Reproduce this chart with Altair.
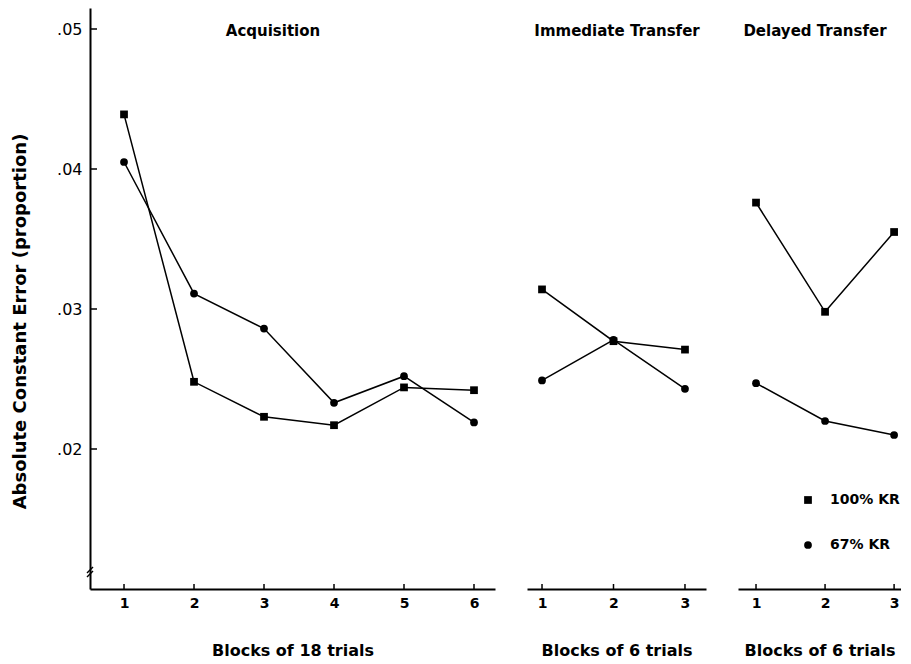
import altair as alt
import pandas as pd

groups = ["100% KR", "67% KR"]
acq_blocks = [1, 2, 3, 4, 5, 6]
acq_100 = [0.0439, 0.0248, 0.0223, 0.0217, 0.0244, 0.0242]
acq_67 = [0.0405, 0.0311, 0.0286, 0.0233, 0.0252, 0.0219]
tr_blocks = [1, 2, 3]
imm_100 = [0.0314, 0.0277, 0.0271]
imm_67 = [0.0249, 0.0278, 0.0243]
del_100 = [0.0376, 0.0298, 0.0355]
del_67 = [0.0247, 0.0220, 0.0210]
y_ticks = [0.02, 0.03, 0.04, 0.05]
panel_titles = ["Acquisition", "Immediate Transfer", "Delayed Transfer"]
x_titles = ["Blocks of 18 trials", "Blocks of 6 trials", "Blocks of 6 trials"]

FONT = "DejaVu Sans"
H = 581
Y_DOMAIN = [0.01, 0.0515]


def make_df(blocks, v100, v67):
    rows = []
    for b, v in zip(blocks, v100):
        rows.append({"block": b, "value": v, "group": groups[0]})
    for b, v in zip(blocks, v67):
        rows.append({"block": b, "value": v, "group": groups[1]})
    return pd.DataFrame(rows)


LEG = alt.Legend(
    title=None, orient="none", legendX=711, legendY=485, direction="vertical",
    labelFont=FONT, labelFontSize=14, labelFontWeight="bold", labelColor="black",
    symbolSize=60, symbolFillColor="black", symbolStrokeColor="black", symbolType="square",
    rowPadding=31, labelOffset=15, padding=0,
)


def panel(df, blocks, xdomain, width, title, title_x, xtitle, first=False):
    xscale = alt.Scale(domain=xdomain, nice=False, zero=False)
    yscale = alt.Scale(domain=Y_DOMAIN, nice=False, zero=False)
    x = alt.X(
        "block:Q",
        scale=xscale,
        axis=alt.Axis(
            values=blocks, format="d", title=xtitle, ticks=False, grid=False,
            labelPadding=7, titlePadding=32, domainColor="black", domainWidth=2,
            labelFont=FONT, labelFontSize=14, labelFontWeight="bold", labelColor="black",
            titleFont=FONT, titleFontSize=16, titleFontWeight="bold", titleColor="black",
        ),
    )
    if first:
        y = alt.Y(
            "value:Q",
            scale=yscale,
            axis=alt.Axis(
                values=y_ticks, labelExpr="substring(format(datum.value, '.2f'), 1)",
                title="Absolute Constant Error (proportion)", ticks=False, grid=False,
                labelPadding=8, titleX=-70, titleY=313, titleAngle=-90,
                titleAlign="center", titleBaseline="middle",
                domainColor="black", domainWidth=2,
                labelFont=FONT, labelFontSize=16, labelColor="black",
                titleFont=FONT, titleFontSize=18, titleFontWeight="bold", titleColor="black",
            ),
        )
    else:
        y = alt.Y("value:Q", scale=yscale, axis=None)

    base = alt.Chart(df)
    lines = base.mark_line(color="black", strokeWidth=1.5).encode(x=x, y=y, detail="group:N")
    points = base.mark_point(filled=True, opacity=1, color="black", size=60).encode(
        x=x,
        y=y,
        shape=alt.Shape("group:N", scale=alt.Scale(domain=groups, range=["square", "circle"]), legend=LEG),
    )
    tick_df = pd.DataFrame({"block": blocks})
    xticks = alt.Chart(tick_df).mark_rule(color="black", strokeWidth=1.5).encode(
        x=alt.X("block:Q", scale=xscale), y=alt.value(H), y2=alt.value(H - 5)
    )
    title_df = pd.DataFrame({"t": [title]})
    ttl = alt.Chart(title_df).mark_text(
        font=FONT, fontSize=15, fontWeight="bold", color="black", align="center", baseline="middle"
    ).encode(text="t:N", x=alt.value(title_x), y=alt.value(23))
    layers = [lines, points, xticks, ttl]
    if first:
        ydf = pd.DataFrame({"value": y_ticks})
        yt = alt.Chart(ydf).mark_rule(color="black", strokeWidth=1.5).encode(
            y=alt.Y("value:Q", scale=yscale), x=alt.value(0), x2=alt.value(7)
        )
        brk1 = alt.Chart(pd.DataFrame({"a": [0]})).mark_rule(color="black", strokeWidth=1.5).encode(
            x=alt.value(-3), x2=alt.value(3), y=alt.value(H - 16), y2=alt.value(H - 22)
        )
        brk2 = alt.Chart(pd.DataFrame({"a": [0]})).mark_rule(color="black", strokeWidth=1.5).encode(
            x=alt.value(-3), x2=alt.value(3), y=alt.value(H - 12), y2=alt.value(H - 18)
        )
        layers += [yt, brk1, brk2]
    return alt.layer(*layers).properties(width=width, height=H)


p1 = panel(make_df(acq_blocks, acq_100, acq_67), acq_blocks, [0.514, 6.3], 405,
           panel_titles[0], 183, x_titles[0], first=True)
p2 = panel(make_df(tr_blocks, imm_100, imm_67), tr_blocks, [0.79, 3.294], 179,
           panel_titles[1], 90, x_titles[1])
p3 = panel(make_df(tr_blocks, del_100, del_67), tr_blocks, [0.739, 3.10], 163,
           panel_titles[2], 77, x_titles[2])

chart = (
    alt.hconcat(p1, p2, p3, spacing=32)
    .resolve_scale(x="independent")
    .properties(padding={"left": 3, "top": 0, "right": 0, "bottom": 0}, background="white")
    .configure_view(strokeWidth=0)
)

chart.save("out.html", embed_options={"renderer": "svg", "actions": False})
